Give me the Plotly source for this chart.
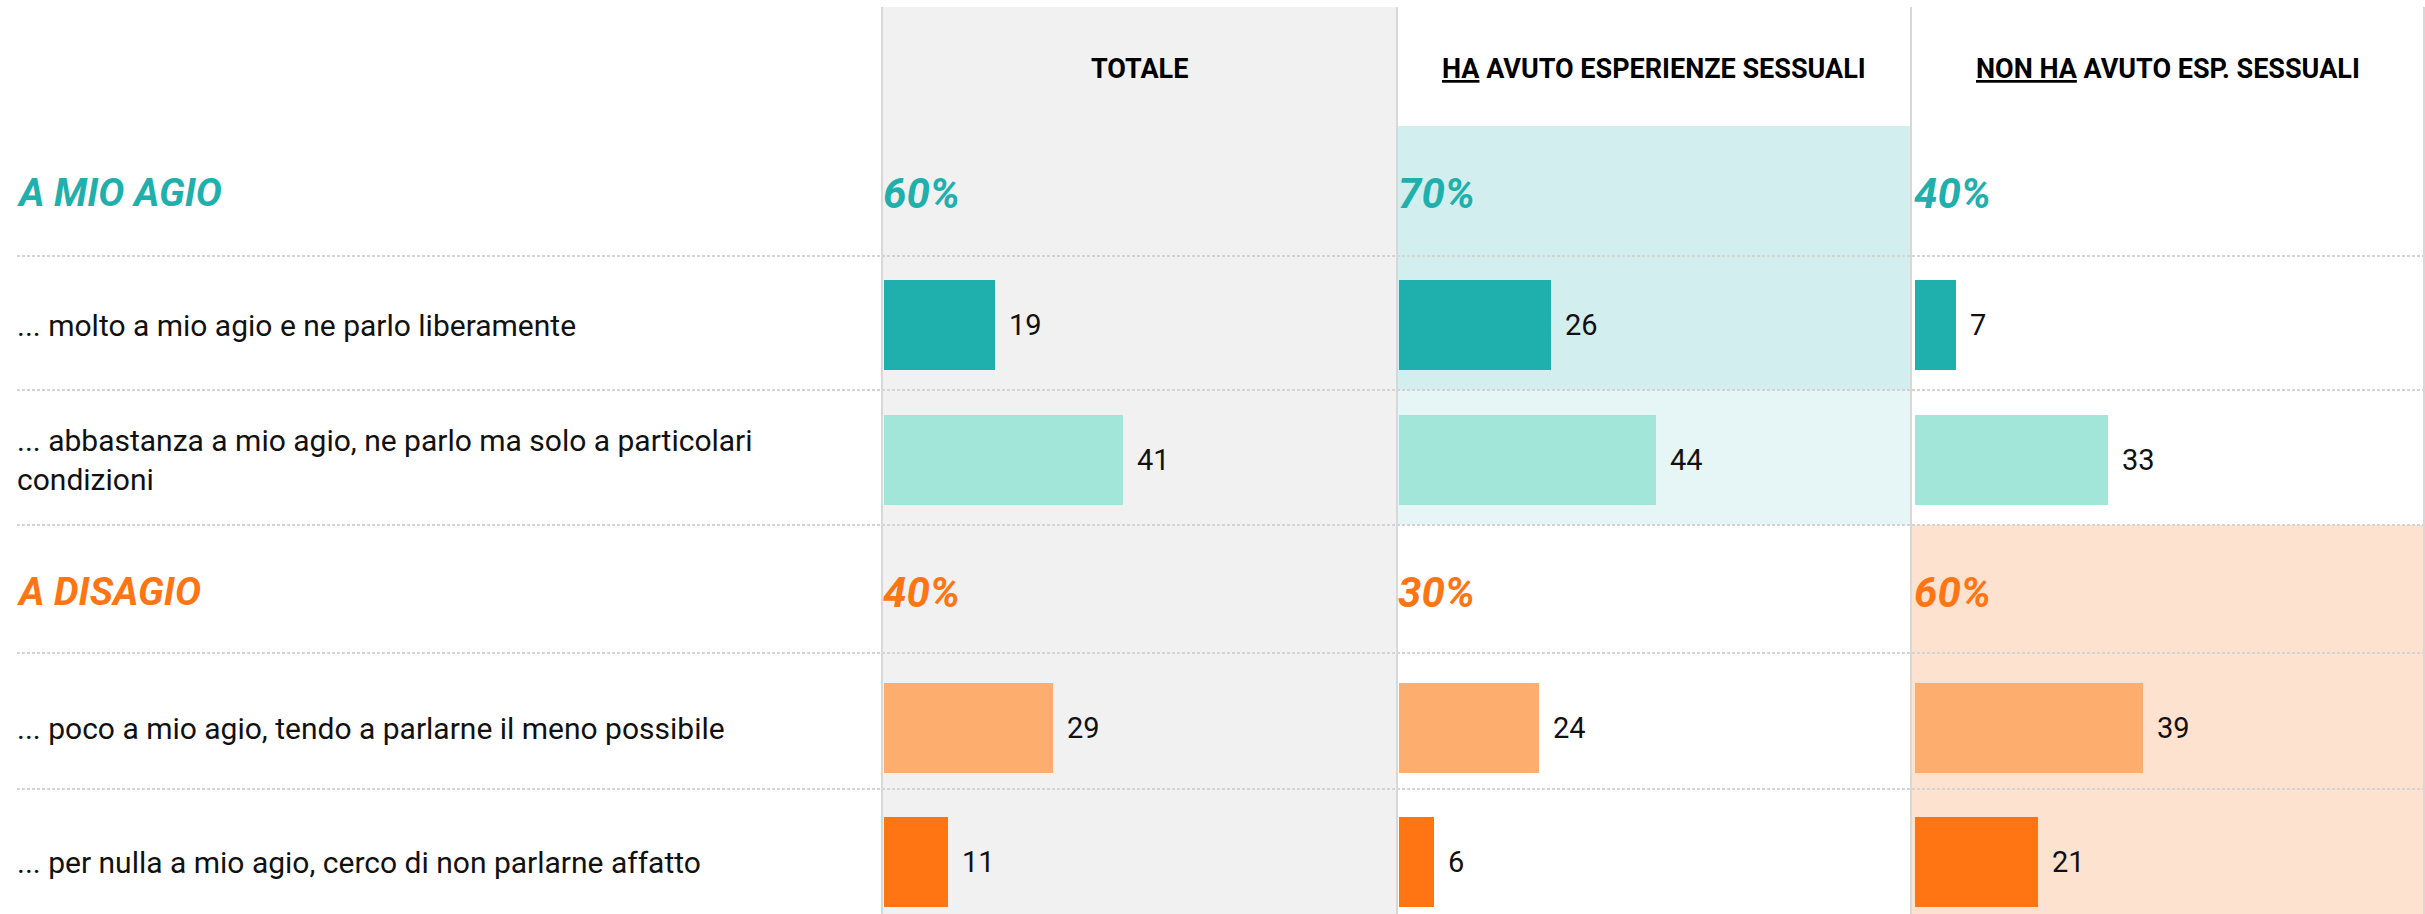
import plotly.graph_objects as go

# ---------------- data ----------------
columns = ["TOTALE", "HA AVUTO ESPERIENZE SESSUALI", "NON HA AVUTO ESP. SESSUALI"]
column_headers = [
    "<b>TOTALE</b>",
    "<b><span style='text-decoration:underline'>HA</span> AVUTO ESPERIENZE SESSUALI</b>",
    "<b><span style='text-decoration:underline'>NON HA</span> AVUTO ESP. SESSUALI</b>",
]
groups = ["A MIO AGIO", "A DISAGIO"]
items = [
    "... molto a mio agio e ne parlo liberamente",
    "... abbastanza a mio agio, ne parlo ma solo a particolari<br>condizioni",
    "... poco a mio agio, tendo a parlarne il meno possibile",
    "... per nulla a mio agio, cerco di non parlarne affatto",
]
totale = [19, 41, 29, 11]
ha_esperienze = [26, 44, 24, 6]
non_ha_esperienze = [7, 33, 39, 21]
group_totale = [60, 40]
group_ha = [70, 30]
group_non_ha = [40, 60]

series = [totale, ha_esperienze, non_ha_esperienze]
group_series = [group_totale, group_ha, group_non_ha]

# ---------------- styling / layout ----------------
W, H = 2425, 914
TEAL = "#1fb0ad"
TEAL_LIGHT = "#a1e6d9"
ORANGE_LIGHT = "#fdae6e"
ORANGE = "#ff7513"
GROUP_COLORS = [TEAL, "#ff7513"]
BAR_COLORS = [TEAL, TEAL_LIGHT, ORANGE_LIGHT, ORANGE]

panel_edges = [882, 1397, 1911, 2425]
bar_offsets = [2, 2, 4]
PPU = 5.84  # pixels per percentage unit

group_y = [193, 592]
item_y = [325, 460, 728, 862]
sep_y = [256, 390, 525, 653, 789]
BAR_H = 90
FONT = "Roboto, 'Liberation Sans', sans-serif"

fig = go.Figure()

axis_names = ["x", "x2", "x3"]
for p in range(3):
    fig.add_trace(go.Bar(
        x=series[p], y=item_y, orientation="h", width=BAR_H,
        marker=dict(color=BAR_COLORS, line=dict(width=0)),
        xaxis=axis_names[p], yaxis="y", hoverinfo="skip", showlegend=False,
    ))

layout_axes = {}
for p in range(3):
    x0, x1 = panel_edges[p], panel_edges[p + 1]
    off = bar_offsets[p]
    key = "xaxis" if p == 0 else f"xaxis{p+1}"
    layout_axes[key] = dict(
        domain=[x0 / W, x1 / W], range=[-off / PPU, (x1 - x0 - off) / PPU],
        visible=False, fixedrange=True, anchor="y",
    )

shapes = []
# panel backgrounds
shapes.append(dict(type="rect", xref="paper", yref="y", x0=panel_edges[0] / W, x1=panel_edges[1] / W,
                   y0=7, y1=H, fillcolor="#f1f1f1", line=dict(width=0), layer="below"))
shapes.append(dict(type="rect", xref="paper", yref="y", x0=panel_edges[1] / W, x1=panel_edges[2] / W,
                   y0=126, y1=sep_y[1], fillcolor="#d2eeee", line=dict(width=0), layer="below"))
shapes.append(dict(type="rect", xref="paper", yref="y", x0=panel_edges[1] / W, x1=panel_edges[2] / W,
                   y0=sep_y[1], y1=sep_y[2], fillcolor="#e6f5f5", line=dict(width=0), layer="below"))
shapes.append(dict(type="rect", xref="paper", yref="y", x0=panel_edges[2] / W, x1=1,
                   y0=sep_y[2], y1=H, fillcolor="#fde2cf", line=dict(width=0), layer="below"))
# dotted separators
for sy in sep_y:
    shapes.append(dict(type="line", xref="paper", yref="y", x0=17 / W, x1=1, y0=sy, y1=sy,
                       line=dict(color="#d4d4d4", width=2, dash="3px,2px"), layer="below"))
# vertical dividers
for ex in [882, 1397, 1911, 2424]:
    shapes.append(dict(type="line", xref="paper", yref="y", x0=ex / W, x1=ex / W, y0=7, y1=H,
                       line=dict(color="#d8d8d8", width=2), layer="below"))

annotations = []
# column headers
for p in range(3):
    cx = (panel_edges[p] + panel_edges[p + 1]) / 2 / W
    annotations.append(dict(xref="paper", yref="y", x=cx, y=69, text=column_headers[p],
                            showarrow=False, xanchor="center", yanchor="middle",
                            font=dict(family=FONT, size=27, color="#000000")))
# group labels + group percentages
for g in range(2):
    annotations.append(dict(xref="paper", yref="y", x=15 / W, y=group_y[g],
                            text=f"<b><i>{groups[g]}</i></b>", showarrow=False,
                            xanchor="left", yanchor="middle",
                            font=dict(family=FONT, size=39, color=GROUP_COLORS[g])))
    for p in range(3):
        annotations.append(dict(xref=axis_names[p], yref="y", x=0, y=group_y[g],
                                text=f"<b><i>{group_series[p][g]}%</i></b>", showarrow=False,
                                xanchor="left", yanchor="middle", xshift=-3,
                                font=dict(family=FONT, size=42, color=GROUP_COLORS[g])))
# item labels
for i in range(4):
    annotations.append(dict(xref="paper", yref="y", x=15 / W, y=item_y[i], text=items[i],
                            showarrow=False, xanchor="left", yanchor="middle", align="left",
                            font=dict(family=FONT, size=30, color="#111111")))
# value labels
for p in range(3):
    for i in range(4):
        annotations.append(dict(xref=axis_names[p], yref="y", x=series[p][i], y=item_y[i],
                                text=str(series[p][i]), showarrow=False,
                                xanchor="left", yanchor="middle", xshift=12,
                                font=dict(family=FONT, size=29, color="#111111")))

fig.update_layout(
    width=W, height=H,
    margin=dict(l=0, r=0, t=0, b=0),
    paper_bgcolor="white", plot_bgcolor="rgba(0,0,0,0)",
    yaxis=dict(range=[H, 0], domain=[0, 1], visible=False, fixedrange=True, anchor="x"),
    shapes=shapes, annotations=annotations,
    showlegend=False, bargap=0,
    **layout_axes,
)

fig.write_html("out.html", config={"displayModeBar": False, "staticPlot": True},
               post_script="document.body.style.margin='0';document.body.style.overflow='hidden';")
